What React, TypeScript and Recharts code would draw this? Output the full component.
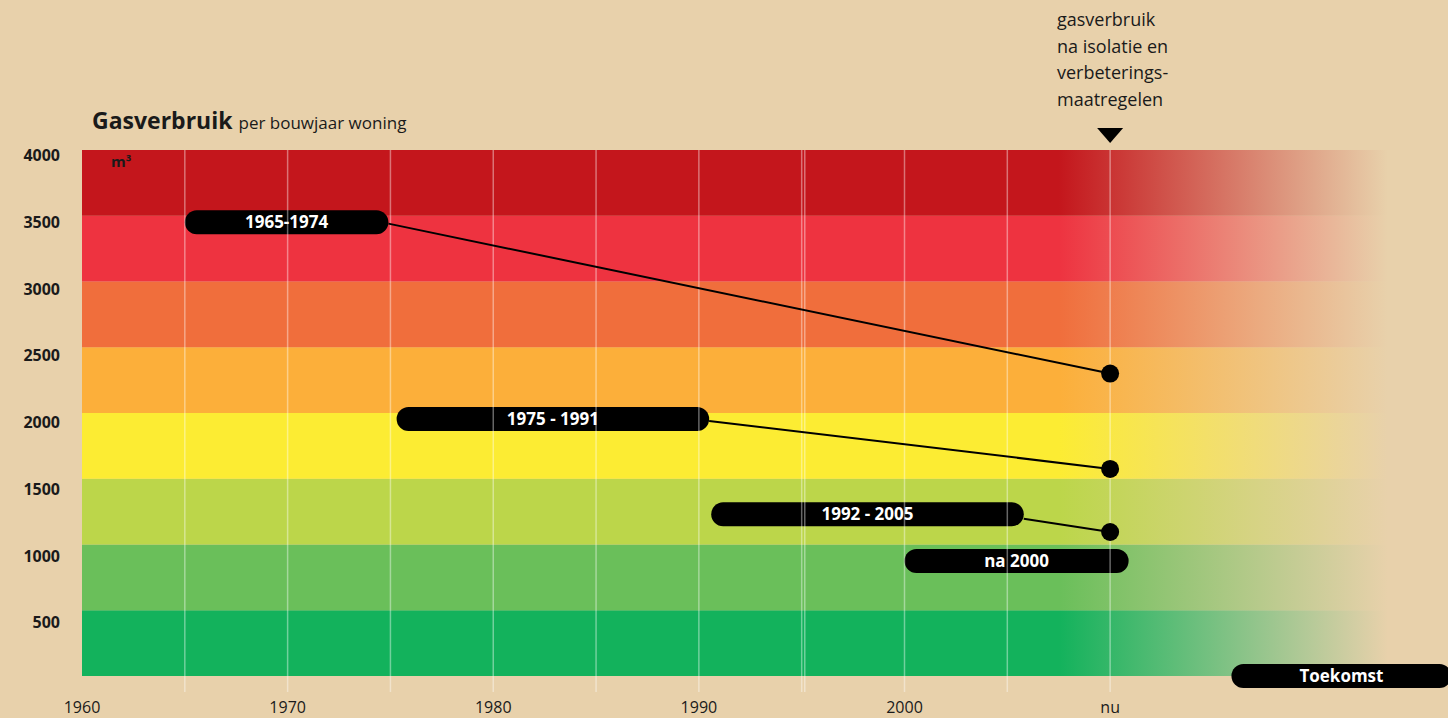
import React from 'react';
import { ComposedChart, XAxis, YAxis, Line, ReferenceArea, ReferenceLine, ReferenceDot } from 'recharts';

const BG = '#E8D1AB';
const FONT = '"Open Sans", "Noto Sans", sans-serif';

// band edges (m3) and their colours, bottom to top
const bandLimits = [0, 500, 1000, 1500, 2000, 2500, 3000, 3500, 4000];
const bandColors = ['#13B25C', '#6ABF5A', '#BCD64A', '#FCEC33', '#FCAF3A', '#F06E3C', '#EE3340', '#C4161C'];

const yTicks = [500, 1000, 1500, 2000, 2500, 3000, 3500, 4000];
const xTicks = [1960, 1965, 1970, 1975, 1980, 1985, 1990, 1995, 1995.15, 2000, 2005, 2010];
const gridYears = [1965, 1970, 1975, 1980, 1985, 1990, 1995, 1995.15, 2000, 2005, 2010];
const xLabels: Record<string, string> = {
    '1960': '1960',
    '1970': '1970',
    '1980': '1980',
    '1990': '1990',
    '2000': '2000',
    '2010': 'nu',
};

const pills = [
    { label: '1965-1974', from: 1965, to: 1974.9, value: 3450 },
    { label: '1975 - 1991', from: 1975.3, to: 1990.5, value: 1955 },
    { label: '1992 - 2005', from: 1990.6, to: 2005.8, value: 1230 },
    { label: 'na 2000', from: 2000, to: 2010.9, value: 875 },
    { label: 'Toekomst', from: 2015.9, to: 2026.6, value: 0 },
];

const line6574 = [{ year: 1974.9, gas: 3440 }, { year: 2010, gas: 2300 }];
const line7591 = [{ year: 1990.5, gas: 1940 }, { year: 2010, gas: 1575 }];
const line9205 = [{ year: 2005.8, gas: 1195 }, { year: 2010, gas: 1095 }];

const PILL_HALF = 91; // half of pill height in m3

const EndDot = (p: any) =>
    p.index === 1 ? <circle key={p.key} cx={p.cx} cy={p.cy} r={9} fill="#000" /> : <g key={p.key} />;

const makePill = (label: string) => (p: any) => (
    <g>
        <rect x={p.x} y={p.y} width={p.width} height={p.height} rx={p.height / 2} fill="#000" />
        <text
            x={p.x + p.width / 2}
            y={p.y + p.height / 2 + 6}
            textAnchor="middle"
            fill="#fff"
            fontFamily={FONT}
            fontWeight={700}
            fontSize={17}
        >
            {label}
        </text>
    </g>
);

const XTick = (p: any) => {
    const v = p.payload.value;
    const label = xLabels[String(v)];
    return (
        <g>
            {v !== 1960 && <line x1={p.x} x2={p.x} y1={p.y} y2={p.y + 16} stroke="#fff" strokeOpacity={0.4} strokeWidth={1.5} />}
            {label && (
                <text x={p.x} y={p.y + 37} textAnchor="middle" fill="#1a1a1a" fontFamily={FONT} fontSize={16}>
                    {label}
                </text>
            )}
        </g>
    );
};

// labels sit a little below their band edge, drifting slightly lower towards the bottom
const YTick = (p: any) => (
    <text
        x={p.x}
        y={p.y + 11 + (4000 - p.payload.value) / 500}
        textAnchor="end"
        fill="#1a1a1a"
        fontFamily={FONT}
        fontWeight={700}
        fontSize={16}
    >
        {p.payload.value}
    </text>
);

const Triangle = (p: any) => (
    <path d={`M${p.cx - 13},${p.cy - 22} L${p.cx + 13},${p.cy - 22} L${p.cx},${p.cy - 7} Z`} fill="#000" />
);

export default function App() {
    return (
        <div style={{ position: 'absolute', left: 0, top: 0, width: 1448, height: 718, background: BG, overflow: 'hidden' }}>
            <svg width={0} height={0} style={{ position: 'absolute' }}>
                <defs>
                    <linearGradient id="fade" x1="0" y1="0" x2="1" y2="0">
                        <stop offset="0" stopColor={BG} stopOpacity={0} />
                        <stop offset="0.97" stopColor={BG} stopOpacity={1} />
                    </linearGradient>
                </defs>
            </svg>
            <ComposedChart width={1448} height={718} margin={{ top: 150, right: 50, bottom: 0, left: 0 }}>
                <XAxis
                    dataKey="year"
                    type="number"
                    domain={[1960, 2024]}
                    allowDataOverflow
                    ticks={xTicks}
                    interval={0}
                    height={42}
                    axisLine={false}
                    tickLine={false}
                    tickSize={0}
                    tickMargin={0}
                    tick={<XTick />}
                />
                <YAxis
                    type="number"
                    domain={[0, 4000]}
                    allowDataOverflow
                    ticks={yTicks}
                    interval={0}
                    width={82}
                    axisLine={false}
                    tickLine={false}
                    tickSize={0}
                    tickMargin={22}
                    tick={<YTick />}
                />
                {bandColors.map((c, i) => (
                    <ReferenceArea key={c} x1={1960} x2={2024} y1={bandLimits[i]} y2={bandLimits[i + 1]} fill={c} fillOpacity={1} stroke="none" />
                ))}
                <ReferenceArea x1={2007.5} x2={2024} y1={0} y2={4000} fill="url(#fade)" fillOpacity={1} stroke="none" />
                {gridYears.map((yr) => (
                    <ReferenceLine key={yr} x={yr} stroke="#fff" strokeOpacity={0.4} strokeWidth={1.5} />
                ))}
                <ReferenceDot x={2010} y={4000} r={0} ifOverflow="visible" shape={<Triangle />} />
                <Line data={line6574} dataKey="gas" stroke="#000" strokeWidth={2} dot={EndDot} isAnimationActive={false} />
                <Line data={line7591} dataKey="gas" stroke="#000" strokeWidth={2} dot={EndDot} isAnimationActive={false} />
                <Line data={line9205} dataKey="gas" stroke="#000" strokeWidth={2} dot={EndDot} isAnimationActive={false} />
                {pills.map((p) => (
                    <ReferenceArea
                        key={p.label}
                        x1={p.from}
                        x2={p.to}
                        y1={p.value - PILL_HALF}
                        y2={p.value + PILL_HALF}
                        ifOverflow="visible"
                        shape={makePill(p.label)}
                    />
                ))}
            </ComposedChart>
            <svg width={1448} height={718} style={{ position: 'absolute', left: 0, top: 0, pointerEvents: 'none' }}>
                <text x={92} y={129} fontFamily={FONT} fill="#1a1a1a">
                    <tspan fontSize={23} fontWeight={700}>Gasverbruik</tspan>
                    <tspan fontSize={17} dx={6}>per bouwjaar woning</tspan>
                </text>
                <text x={111} y={167} fontFamily={FONT} fontSize={15} fontWeight={700} fill="#1a1a1a">
                    m³
                </text>
                <text fontFamily={FONT} fontSize={18} fill="#1a1a1a">
                    <tspan x={1057} y={26}>gasverbruik</tspan>
                    <tspan x={1057} y={53}>na isolatie en</tspan>
                    <tspan x={1057} y={79}>verbeterings-</tspan>
                    <tspan x={1057} y={106}>maatregelen</tspan>
                </text>
            </svg>
        </div>
    );
}
